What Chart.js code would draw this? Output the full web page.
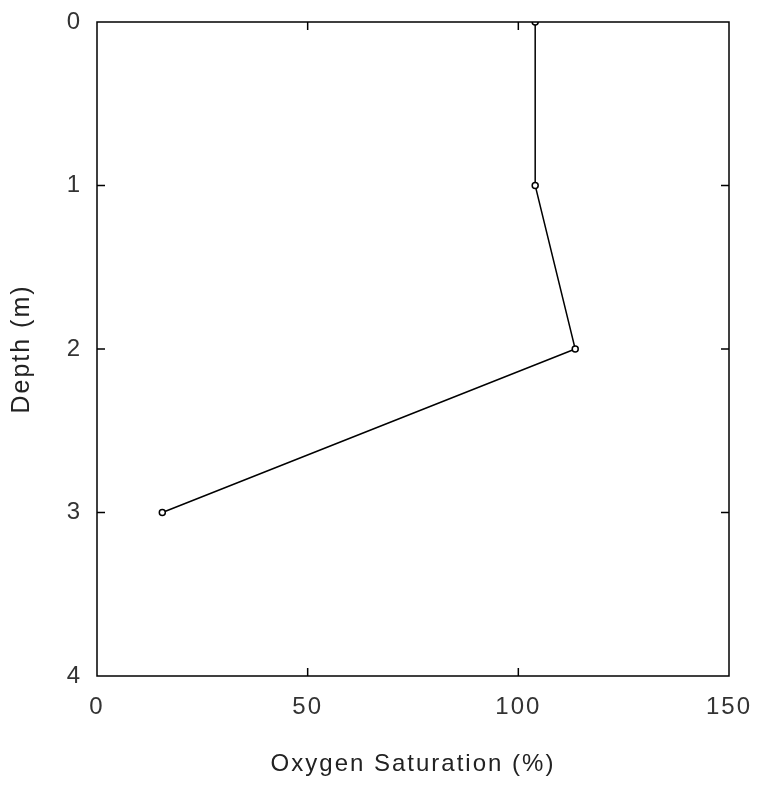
<!DOCTYPE html>
<html>
<head>
<meta charset="utf-8">
<script src="https://cdn.jsdelivr.net/npm/chart.js@4/dist/chart.umd.min.js"></script>
<style>
  html, body { margin: 0; padding: 0; background: #fff; }
  #wrap { width: 760px; height: 786px; }
</style>
</head>
<body>
<div id="wrap"><canvas id="chart1"></canvas></div>
<script>
// data
var depths = [0, 1, 2, 3];
var saturation = [104, 104, 113.5, 15.5];
var xTicks = [0, 50, 100, 150];
var yTicks = [0, 1, 2, 3, 4];

var points = depths.map(function (d, i) { return { x: saturation[i], y: d }; });

// the scanned lettering is widely spaced
var spacing = {
  id: 'spacing',
  beforeDraw: function (chart) { chart.ctx.letterSpacing = '2px'; }
};

// box round the plot plus short inward ticks on all four sides
var frameTicks = {
  id: 'frameTicks',
  afterDraw: function (chart) {
    var c = chart.ctx, a = chart.chartArea;
    var xs = chart.scales.x, ys = chart.scales.y;
    var len = 8;
    c.save();
    c.strokeStyle = '#000';
    c.lineWidth = 1.5;
    c.strokeRect(a.left, a.top, a.right - a.left, a.bottom - a.top);
    c.beginPath();
    xTicks.slice(1, -1).forEach(function (v) {
      var px = xs.getPixelForValue(v);
      c.moveTo(px, a.bottom); c.lineTo(px, a.bottom - len);
      c.moveTo(px, a.top); c.lineTo(px, a.top + len);
    });
    yTicks.slice(1, -1).forEach(function (v) {
      var py = ys.getPixelForValue(v);
      c.moveTo(a.left, py); c.lineTo(a.left + len, py);
      c.moveTo(a.right, py); c.lineTo(a.right - len, py);
    });
    c.stroke();
    c.restore();
  }
};

var ctx = document.getElementById('chart1').getContext('2d');
var chart = new Chart(ctx, {
  type: 'scatter',
  data: {
    datasets: [{
      label: 'Oxygen saturation',
      data: points,
      showLine: true,
      borderColor: '#000',
      borderWidth: 1.5,
      pointRadius: 3,
      pointBackgroundColor: '#fff',
      pointBorderColor: '#000',
      pointBorderWidth: 1.5
    }]
  },
  options: {
    responsive: true,
    maintainAspectRatio: false,
    animation: false,
    layout: { padding: { left: 0, top: 22, right: 31, bottom: 0 } },
    plugins: { legend: { display: false }, tooltip: { enabled: false } },
    scales: {
      x: {
        type: 'linear',
        min: 0, max: 150,
        afterBuildTicks: function (s) { s.ticks = xTicks.map(function (v) { return { value: v }; }); },
        afterFit: function (s) { s.height = 110; s.paddingLeft = 0; s.paddingRight = 0; },
        grid: { display: false, drawTicks: false },
        border: { display: false },
        ticks: { color: '#333', padding: 17, font: { family: 'Liberation Sans', size: 24 } },
        title: {
          display: true,
          text: 'Oxygen Saturation (%)',
          color: '#222',
          padding: { top: 0, bottom: 7 },
          font: { family: 'Liberation Sans', size: 24 }
        }
      },
      y: {
        type: 'linear',
        min: 0, max: 4,
        reverse: true,
        afterBuildTicks: function (s) { s.ticks = yTicks.map(function (v) { return { value: v }; }); },
        afterFit: function (s) { s.width = 97; s.paddingTop = 0; s.paddingBottom = 0; },
        grid: { display: false, drawTicks: false },
        border: { display: false },
        ticks: { color: '#333', padding: 15, font: { family: 'Liberation Sans', size: 24 } },
        title: {
          display: true,
          text: 'Depth (m)',
          color: '#222',
          padding: { top: 7, bottom: 0 },
          font: { family: 'Liberation Sans', size: 25 }
        }
      }
    }
  },
  plugins: [spacing, frameTicks]
});
</script>
</body>
</html>
